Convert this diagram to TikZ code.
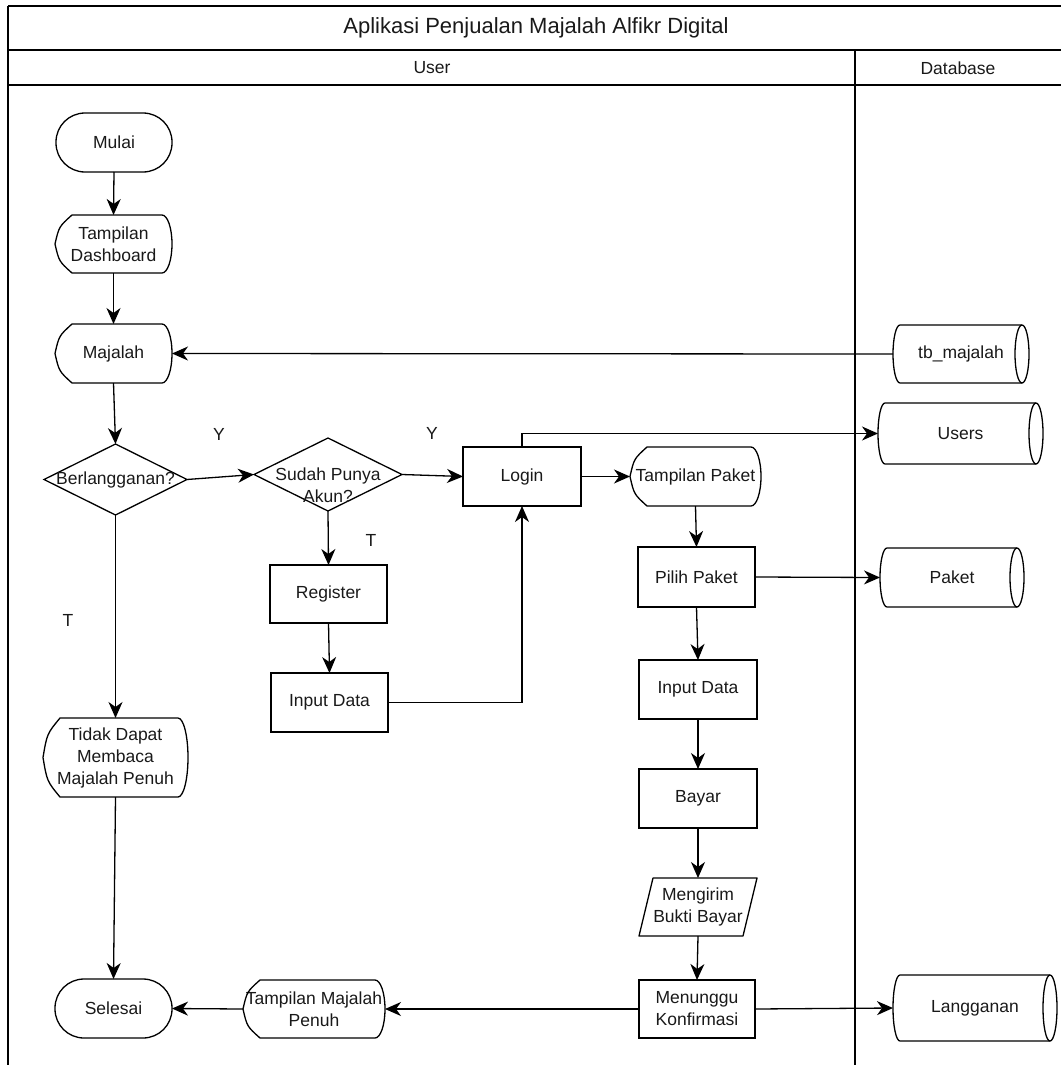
\documentclass[tikz,border=0pt]{standalone}
\usepackage{fontspec}
\setmainfont{Liberation Sans}
\usetikzlibrary{arrows.meta,shapes.geometric}
\newcommand\dispshape[2]{%
 \draw[shp] ([xshift=17pt]#1.north west) -- ([xshift=-10pt]#1.north east)
   arc[start angle=90,end angle=-90,x radius=10pt,y radius=#2pt]
   -- ([xshift=17pt]#1.south west)
   .. controls ([xshift=4pt,yshift={0.4*#2pt}]#1.south west) .. (#1.west)
   .. controls ([xshift=4pt,yshift={-0.4*#2pt}]#1.north west) .. ([xshift=17pt]#1.north west) -- cycle;}
\newcommand\cylshape[2]{%
 \draw[shp] ([xshift=7pt]#1.north west) arc[start angle=90,end angle=270,x radius=7pt,y radius=#2pt]
   -- ([xshift=-7pt]#1.south east) arc[start angle=-90,end angle=90,x radius=7pt,y radius=#2pt] -- cycle;
 \draw[shp] ([xshift=-7pt]#1.north east) arc[start angle=90,end angle=270,x radius=7pt,y radius=#2pt];}
\begin{document}
\begin{tikzpicture}[x=1pt,y=-1pt,
  shp/.style={line width=1.3pt, draw=black, line join=round},
  base/.style={inner sep=0pt, outer sep=0pt, align=center, font=\fontsize{17.5}{22}\selectfont, text=black!90},
  box/.style={base, draw=black, line width=1.3pt, rectangle},
  term/.style={box, rounded corners=29pt},
  dia/.style={base, draw=black, line width=1.3pt, diamond},
  ghost/.style={base, rectangle},
  arr/.style={line width=1.3pt, draw=black, -{Stealth[length=16pt,width=14pt,inset=5pt]}},
  ln/.style={line width=1.3pt, draw=black},
  lbl/.style={font=\fontsize{17.5}{22}\selectfont, text=black!90, inner sep=0pt},
]
\useasboundingbox (0,0) rectangle (1060,1065);
% frame
\draw[ln] (8,6) -- (1070,6);
\draw[ln] (8,50) -- (1070,50);
\draw[ln] (8,85) -- (1070,85);
\draw[ln] (8,6) -- (8,1070);
\draw[ln] (855,50) -- (855,1070);
\node[lbl, font=\fontsize{22}{26}\selectfont] (title) at (536,28) {Aplikasi Penjualan Majalah Alfikr Digital};
\node[lbl] (laneuser) at (432,68) {User};
\node[lbl] (lanedb) at (958,68) {Database};
% nodes
\node[term, minimum width=116pt, minimum height=59pt] (mulai) at (114,142.5) {Mulai};
\node[ghost, minimum width=117pt, minimum height=58pt] (dash) at (113.5,244) {Tampilan\\Dashboard};
\node[ghost, minimum width=117pt, minimum height=59pt] (maj) at (113.5,353.5) {Majalah};
\node[dia, minimum width=143pt, minimum height=71pt] (berl) at (115.5,479.5) {\makebox[0pt]{Berlangganan?}};
\node[dia, minimum width=148pt, minimum height=73pt,
      label={[lbl, align=center, yshift=-11pt]center:Sudah Punya\\Akun?}] (sudah) at (328,474.5) {};
\node[box, minimum width=118pt, minimum height=59pt] (login) at (522,476.5) {Login};
\node[ghost, minimum width=131pt, minimum height=59pt] (tpak) at (695.5,476.5) {Tampilan Paket};
\node[box, minimum width=117pt, minimum height=60pt] (pilih) at (696.5,577) {Pilih Paket};
\node[box, minimum width=118pt, minimum height=59pt] (inr) at (698,689.5) {Input Data};
\node[box, minimum width=118pt, minimum height=59pt] (bayar) at (698,798.5) {Bayar};
\node[ghost, minimum width=118pt, minimum height=58pt] (kirim) at (698,907) {Mengirim\\Bukti Bayar};
\node[box, minimum width=116pt, minimum height=58pt] (tunggu) at (697,1009) {Menunggu\\Konfirmasi};
\node[box, minimum width=117pt, minimum height=58pt] (reg) at (328.5,594) {Register};
\node[box, minimum width=117pt, minimum height=59pt] (inl) at (329.5,702.5) {Input Data};
\node[ghost, minimum width=145pt, minimum height=79pt] (tidak) at (115.5,757.5) {Tidak Dapat\\Membaca\\Majalah Penuh};
\node[term, minimum width=117pt, minimum height=59pt] (selesai) at (113.5,1008.5) {Selesai};
\node[ghost, minimum width=142pt, minimum height=58pt] (tmp) at (314,1009) {Tampilan Majalah\\Penuh};
\node[ghost, minimum width=136pt, minimum height=58pt] (tbm) at (961,354) {tb\_majalah};
\node[ghost, minimum width=165pt, minimum height=61pt] (users) at (960.5,433.5) {Users};
\node[ghost, minimum width=144pt, minimum height=59pt] (paket) at (952,577.5) {Paket};
\node[ghost, minimum width=164pt, minimum height=66pt] (lang) at (975,1008) {Langganan};
% custom outlines
\dispshape{dash}{29}
\dispshape{maj}{29.5}
\dispshape{tpak}{29.5}
\dispshape{tidak}{39.5}
\dispshape{tmp}{29}
\draw[shp] ([xshift=14pt]kirim.north west) -- (kirim.north east) -- ([xshift=-14pt]kirim.south east) -- (kirim.south west) -- cycle;
\cylshape{tbm}{29}
\cylshape{users}{30.5}
\cylshape{paket}{29.5}
\cylshape{lang}{33}
% labels
\node[lbl] (y1) at (219,434) {Y};
\node[lbl] (y2) at (432,433) {Y};
\node[lbl] (t1) at (371,540) {T};
\node[lbl] (t2) at (68,620) {T};
% connectors
\draw[arr] (mulai.south) -- (dash.north);
\draw[arr] (dash.south) -- (maj.north);
\draw[arr] (tbm.west) -- (maj.east);
\draw[arr] (maj.south) -- (berl.north);
\draw[arr] (berl.east) -- (sudah.west);
\draw[arr] (sudah.east) -- (login.west);
\draw[arr] (sudah.south) -- (reg.north);
\draw[arr] (reg.south) -- (inl.north);
\draw[arr] (inl.east) -| (login.south);
\draw[arr] (login.north) |- (users.west);
\draw[arr] (login.east) -- (tpak.west);
\draw[arr] (tpak.south) -- (pilih.north);
\draw[arr] (pilih.east) -- (paket.west);
\draw[arr] (pilih.south) -- (inr.north);
\draw[arr] (inr.south) -- (bayar.north);
\draw[arr] (bayar.south) -- (kirim.north);
\draw[arr] (kirim.south) -- (tunggu.north);
\draw[arr] (tunggu.east) -- (lang.west);
\draw[arr] (tunggu.west) -- (tmp.east);
\draw[arr] (tmp.west) -- (selesai.east);
\draw[arr] (berl.south) -- (tidak.north);
\draw[arr] (tidak.south) -- (selesai.north);
\end{tikzpicture}
\end{document}
